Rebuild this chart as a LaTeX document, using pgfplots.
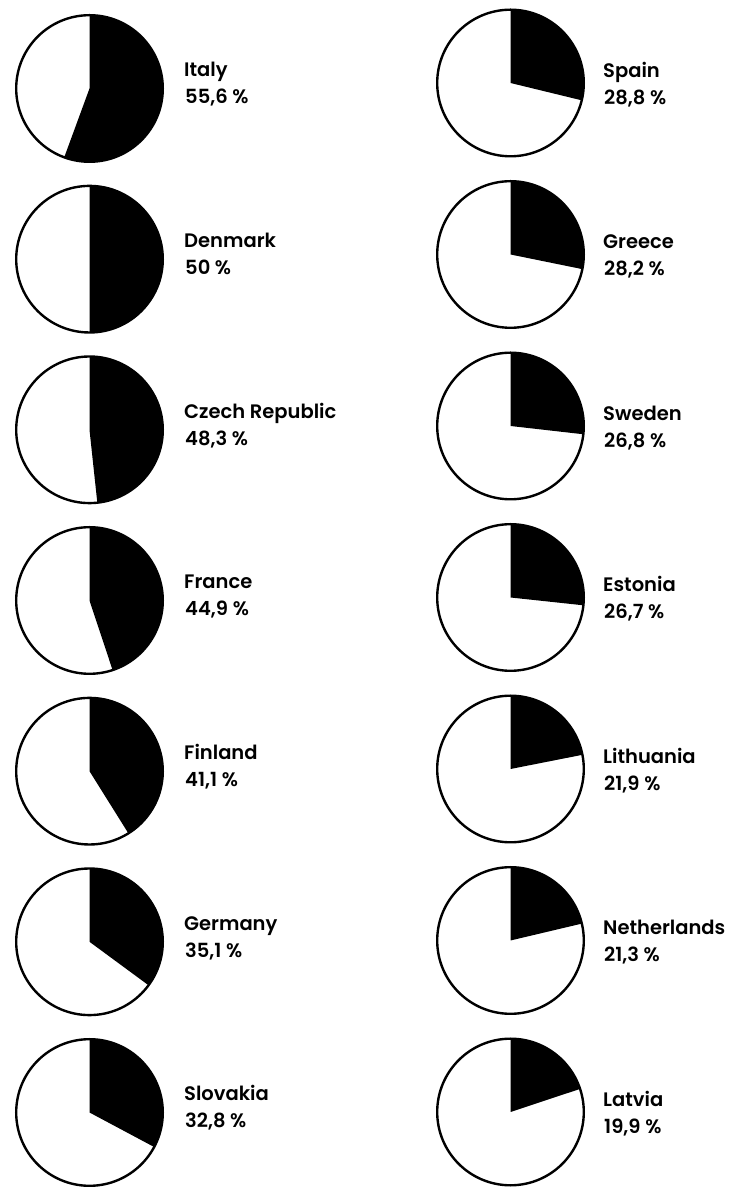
\documentclass[border=0pt]{standalone}
\usepackage{fontspec}
\usepackage{pgfplots}
\usepackage{pgfplotstable}
\pgfplotsset{compat=1.18}
\newfontfamily\labfont{Poppins}[UprightFont={* SemiBold}]

\pgfplotstableread[col sep=comma]{
x,y,name,val
89.5,1098.5,Italy,55.6
89.5,927.8,Denmark,50
89.5,757.2,Czech Republic,48.3
89.5,586.5,France,44.9
89.5,415.8,Finland,41.1
89.5,245.2,Germany,35.1
89.5,74.5,Slovakia,32.8
}\leftcol

\pgfplotstableread[col sep=comma]{
x,y,name,val
510.5,1104,Spain,28.8
510.5,932.5,Greece,28.2
510.5,761,Sweden,26.8
510.5,589.5,Estonia,26.7
510.5,418,Lithuania,21.9
510.5,246.5,Netherlands,21.3
510.5,75,Latvia,19.9
}\rightcol

\pgfdeclareplotmark{pie}{%
  \pgfmathsetmacro\pieend{90-0.36*\pgfplotspointmetatransformed}%
  \pgfpathmoveto{\pgfpointorigin}%
  \pgfpathlineto{\pgfpoint{0pt}{73.3pt}}%
  \pgfpatharc{90}{\pieend}{73.3pt}%
  \pgfpathclose
  \pgfusepath{fill}%
  \pgfpathcircle{\pgfpointorigin}{73.3pt}%
  \pgfusepath{stroke}%
}

\pgfplotsset{
  pies/.style={scatter, only marks, mark=pie,
    point meta=\thisrow{val},
    scatter/use mapped color={draw=black, fill=black},
    mark options={line width=2.4pt, draw=black, fill=black},
    nodes near coords={\pgfmathprintnumber[fixed, precision=1, use comma, assume math mode=true]{\pgfplotspointmeta}~\%},
  },
  names/.style={only marks, mark=none,
    point meta=explicit symbolic,
    nodes near coords,
  },
  every node near coord/.append style={anchor=base west, inner sep=0pt, text=black,
    font=\fontsize{19.5pt}{27pt}\selectfont\labfont},
}

\begin{document}
\begin{tikzpicture}
\begin{axis}[
  scale only axis, width=731pt, height=1187pt,
  xmin=0, xmax=731, ymin=0, ymax=1187,
  point meta min=0, point meta max=100,
  /pgf/number format/assume math mode=true,
  axis lines=box, axis line style={draw=none}, xtick=\empty, ytick=\empty,
  clip=false,
]
\addplot[pies, every node near coord/.append style={xshift=94.5pt, yshift=-15.5pt}] table[x=x, y=y] {\leftcol};
\addplot[pies, every node near coord/.append style={xshift=92.5pt, yshift=-21.5pt}] table[x=x, y=y] {\rightcol};
\addplot[names, every node near coord/.append style={xshift=94.5pt, yshift=11.5pt}] table[x=x, y=y, meta=name] {\leftcol};
\addplot[names, every node near coord/.append style={xshift=92.5pt, yshift=5.5pt}] table[x=x, y=y, meta=name] {\rightcol};
\end{axis}
\end{tikzpicture}
\end{document}
